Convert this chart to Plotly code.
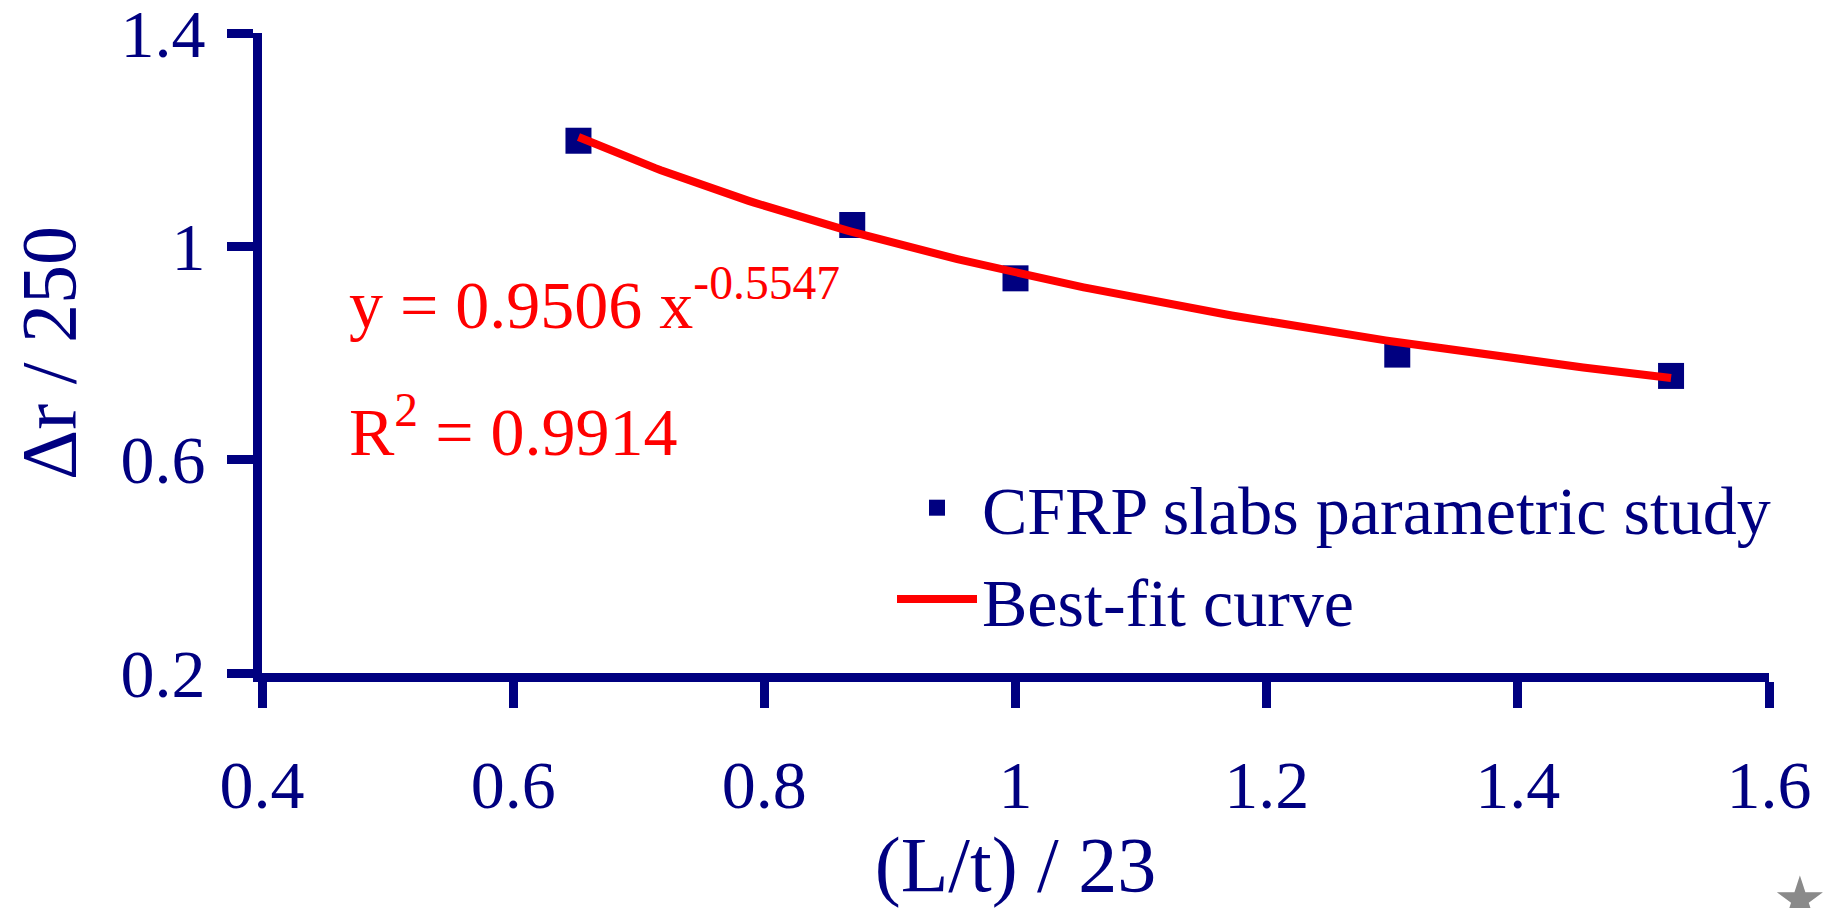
import numpy as np
import plotly.graph_objects as go

# Parametric study results: normalised span ratio vs normalised deflection
ratio_lt = [0.652, 0.870, 1.000, 1.304, 1.522]
delta_r = [1.198, 1.040, 0.940, 0.797, 0.757]

# Power-law best fit y = a * x^b
fit_a = 0.9506
fit_b = -0.5547
fit_r2 = 0.9914

x_ticks = [0.4, 0.6, 0.8, 1.0, 1.2, 1.4, 1.6]
x_tick_text = ["0.4", "0.6", "0.8", "1", "1.2", "1.4", "1.6"]
y_ticks = [0.2, 0.6, 1.0, 1.4]
y_tick_text = ["0.2", "0.6", "1", "1.4"]

NAVY = "#000080"
RED = "#FF0000"
FONT = "Liberation Serif"

fit_x = np.linspace(min(ratio_lt), max(ratio_lt), 200)
fit_y = fit_a * fit_x ** fit_b

fig = go.Figure()
fig.add_trace(go.Scatter(
    x=ratio_lt, y=delta_r, mode="markers",
    name="CFRP slabs parametric study",
    marker=dict(symbol="square", size=26, color=NAVY),
))
fig.add_trace(go.Scatter(
    x=fit_x, y=fit_y, mode="lines",
    name="Best-fit curve",
    line=dict(color=RED, width=8),
))

fig.add_annotation(
    xref="paper", yref="paper", x=(347 - 262) / 1507, y=(673 - 300) / 640,
    xanchor="left", yanchor="middle", showarrow=False,
    text=f"y = {fit_a:.4f} x<sup>{fit_b:.4f}</sup>",
    font=dict(family=FONT, size=68, color=RED),
)
fig.add_annotation(
    xref="paper", yref="paper", x=(347 - 262) / 1507, y=(673 - 427) / 640,
    xanchor="left", yanchor="middle", showarrow=False,
    text=f"R<sup>2</sup> = {fit_r2:.4f}",
    font=dict(family=FONT, size=68, color=RED),
)
fig.add_annotation(
    xref="paper", yref="paper", x=(1800 - 262) / 1507, y=(673 - 898) / 640,
    xanchor="center", yanchor="middle", showarrow=False,
    text="★", font=dict(family="DejaVu Sans", size=60, color="#8a8a8a"),
)

axis_common = dict(
    showline=True, linecolor=NAVY, linewidth=9,
    ticks="outside", ticklen=26, tickwidth=9, tickcolor=NAVY,
    showgrid=False, zeroline=False,
    ticklabeloverflow="allow",
    tickfont=dict(family=FONT, size=68, color=NAVY),
    title_font=dict(family=FONT, size=78, color=NAVY),
)

fig.update_xaxes(
    range=[0.4, 1.6], tickvals=x_ticks, ticktext=x_tick_text,
    title_text="(L/t) / 23", title_standoff=24, ticklabelstandoff=18,
    **axis_common,
)
fig.update_yaxes(
    range=[0.2, 1.4], tickvals=y_ticks, ticktext=y_tick_text,
    title_text="Δr / 250", title_standoff=23, ticklabelstandoff=8,
    **axis_common,
)

fig.update_layout(
    width=1825, height=908,
    margin=dict(l=262, r=56, t=33, b=235, autoexpand=False),
    paper_bgcolor="white", plot_bgcolor="white",
    showlegend=True,
    legend=dict(
        x=(892 - 262) / 1507, y=(673 - 457) / 640, xanchor="left", yanchor="top",
        bgcolor="rgba(0,0,0,0)", itemwidth=80,
        font=dict(family=FONT, size=68, color=NAVY),
    ),
)

fig.write_html("out.html")
